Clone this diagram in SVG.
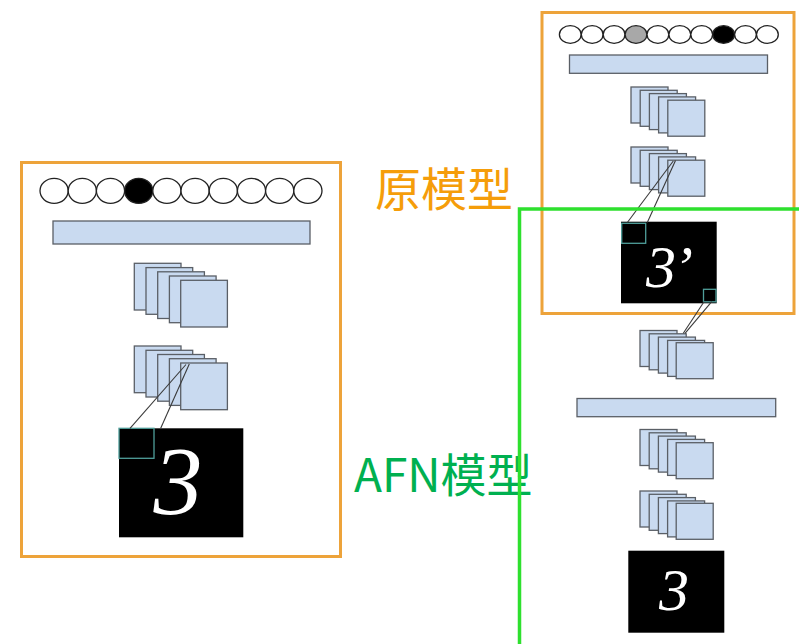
<svg xmlns="http://www.w3.org/2000/svg" width="799" height="644" viewBox="0 0 799 644">
  <style>
    .frame-orange { fill: none; stroke: #eda33a; stroke-width: 3; }
    .frame-green { fill: none; stroke: #2ee02e; stroke-width: 3.5; }
    .fmap { fill: #c9daf0; stroke: #5a5f66; stroke-width: 1.3; }
    .bar { fill: #c9daf0; stroke: #5a5f66; stroke-width: 1.3; }
    .unit { fill: #ffffff; stroke: #222222; stroke-width: 1.3; }
    .unit-on { fill: #000000; stroke: #222222; stroke-width: 1.3; }
    .unit-half { fill: #a8a8a8; stroke: #222222; stroke-width: 1.3; }
    .img { fill: #000000; }
    .patch { fill: #000000; stroke: #4f9e9a; stroke-width: 1.3; }
    .link { stroke: #3a3a3a; stroke-width: 1.1; fill: none; }
    .digit { font-family: "Liberation Serif", serif; font-style: italic; fill: #ffffff; text-anchor: middle; }
    .label { font-family: "Noto Sans CJK SC", "Noto Sans", sans-serif; }
  </style>

  <!-- left network -->
  <g id="left-model">
    <rect class="frame-orange" x="21.5" y="162.5" width="319" height="394"/>
    <g id="left-output">
      <ellipse class="unit" cx="54.1" cy="190.8" rx="14.1" ry="12.5"/>
      <ellipse class="unit" cx="82.3" cy="190.8" rx="14.1" ry="12.5"/>
      <ellipse class="unit" cx="110.5" cy="190.8" rx="14.1" ry="12.5"/>
      <ellipse class="unit-on" cx="138.7" cy="190.8" rx="14.1" ry="12.5"/>
      <ellipse class="unit" cx="166.9" cy="190.8" rx="14.1" ry="12.5"/>
      <ellipse class="unit" cx="195.1" cy="190.8" rx="14.1" ry="12.5"/>
      <ellipse class="unit" cx="223.3" cy="190.8" rx="14.1" ry="12.5"/>
      <ellipse class="unit" cx="251.5" cy="190.8" rx="14.1" ry="12.5"/>
      <ellipse class="unit" cx="279.7" cy="190.8" rx="14.1" ry="12.5"/>
      <ellipse class="unit" cx="307.9" cy="190.8" rx="14.1" ry="12.5"/>
    </g>
    <rect id="left-fc" class="bar" x="53" y="221" width="257" height="23"/>
    <g id="left-conv2">
      <rect class="fmap" x="134.3" y="263.3" width="46.7" height="46.7"/>
      <rect class="fmap" x="146" y="267.6" width="46.7" height="46.7"/>
      <rect class="fmap" x="157.7" y="271.8" width="46.7" height="46.7"/>
      <rect class="fmap" x="169.4" y="276" width="46.7" height="46.7"/>
      <rect class="fmap" x="180.7" y="280.3" width="46.7" height="46.7"/>
    </g>
    <g id="left-conv1">
      <rect class="fmap" x="134.3" y="346" width="46.7" height="46.7"/>
      <rect class="fmap" x="146" y="350.3" width="46.7" height="46.7"/>
      <rect class="fmap" x="157.7" y="354.5" width="46.7" height="46.7"/>
      <rect class="fmap" x="169.4" y="358.7" width="46.7" height="46.7"/>
      <rect class="fmap" x="180.7" y="363" width="46.7" height="46.7"/>
    </g>
    <g id="left-input">
      <rect class="img" x="119" y="428.3" width="124.3" height="109"/>
      <rect class="patch" x="119" y="428.3" width="35" height="30"/>
      <text class="digit" x="178" y="514" font-size="98">3</text>
    </g>
  </g>

  <!-- right network: original model on top, AFN below -->
  <g id="right-model">
    <rect class="frame-orange" x="542" y="12.5" width="252" height="301"/>
    <g id="right-output">
      <ellipse class="unit" cx="570.3" cy="34.5" rx="10.9" ry="8.8"/>
      <ellipse class="unit" cx="592.2" cy="34.5" rx="10.9" ry="8.8"/>
      <ellipse class="unit" cx="614.1" cy="34.5" rx="10.9" ry="8.8"/>
      <ellipse class="unit-half" cx="636" cy="34.5" rx="10.9" ry="8.8"/>
      <ellipse class="unit" cx="657.9" cy="34.5" rx="10.9" ry="8.8"/>
      <ellipse class="unit" cx="679.8" cy="34.5" rx="10.9" ry="8.8"/>
      <ellipse class="unit" cx="701.7" cy="34.5" rx="10.9" ry="8.8"/>
      <ellipse class="unit-on" cx="723.6" cy="34.5" rx="10.9" ry="8.8"/>
      <ellipse class="unit" cx="745.5" cy="34.5" rx="10.9" ry="8.8"/>
      <ellipse class="unit" cx="767.4" cy="34.5" rx="10.9" ry="8.8"/>
    </g>
    <rect id="right-fc" class="bar" x="569.5" y="55" width="198" height="18.3"/>
    <g id="right-conv2">
      <rect class="fmap" x="631" y="87" width="37" height="36"/>
      <rect class="fmap" x="640.2" y="90.3" width="37" height="36"/>
      <rect class="fmap" x="649.4" y="93.6" width="37" height="36"/>
      <rect class="fmap" x="658.6" y="96.9" width="37" height="36"/>
      <rect class="fmap" x="667.8" y="100.2" width="37" height="36"/>
    </g>
    <g id="right-conv1">
      <rect class="fmap" x="631" y="147" width="37" height="36"/>
      <rect class="fmap" x="640.2" y="150.3" width="37" height="36"/>
      <rect class="fmap" x="649.4" y="153.6" width="37" height="36"/>
      <rect class="fmap" x="658.6" y="156.9" width="37" height="36"/>
      <rect class="fmap" x="667.8" y="160.2" width="37" height="36"/>
    </g>
    <g id="adv-image">
      <rect class="img" x="621" y="221.7" width="95.7" height="81.6"/>
      <rect class="patch" x="621.7" y="223.3" width="24" height="20"/>
      <rect class="patch" x="703.5" y="289.3" width="12.5" height="12.5"/>
      <text class="digit" x="668" y="286.5" font-size="60" letter-spacing="-3">3’</text>
    </g>
    <g id="afn-conv3">
      <rect class="fmap" x="640" y="330.5" width="37" height="36"/>
      <rect class="fmap" x="649.2" y="333.8" width="37" height="36"/>
      <rect class="fmap" x="658.4" y="337.1" width="37" height="36"/>
      <rect class="fmap" x="667.6" y="340.4" width="37" height="36"/>
      <rect class="fmap" x="676.2" y="342.7" width="37" height="36"/>
    </g>
    <rect id="afn-fc" class="bar" x="577" y="398.5" width="198.7" height="18.2"/>
    <g id="afn-conv2">
      <rect class="fmap" x="640" y="429.5" width="37" height="36"/>
      <rect class="fmap" x="649.2" y="432.8" width="37" height="36"/>
      <rect class="fmap" x="658.4" y="436.1" width="37" height="36"/>
      <rect class="fmap" x="667.6" y="439.4" width="37" height="36"/>
      <rect class="fmap" x="676.2" y="442.7" width="37" height="36"/>
    </g>
    <g id="afn-conv1">
      <rect class="fmap" x="640" y="491" width="37" height="36"/>
      <rect class="fmap" x="649.2" y="494.3" width="37" height="36"/>
      <rect class="fmap" x="658.4" y="497.6" width="37" height="36"/>
      <rect class="fmap" x="667.6" y="500.9" width="37" height="36"/>
      <rect class="fmap" x="676.2" y="503.3" width="37" height="36"/>
    </g>
    <g id="afn-output">
      <rect class="img" x="628.3" y="550.7" width="96" height="82"/>
      <text class="digit" x="674" y="610" font-size="60">3</text>
    </g>
  </g>

  <!-- receptive-field lines -->
  <g id="connectors">
    <line class="link" x1="186" y1="364.5" x2="130" y2="428.3"/>
    <line class="link" x1="189.3" y1="364" x2="160.7" y2="428.3"/>
    <line class="link" x1="673.3" y1="161" x2="627.3" y2="222.5"/>
    <line class="link" x1="675.5" y1="160.5" x2="647.3" y2="222.5"/>
    <line class="link" x1="704" y1="301.7" x2="683.3" y2="333.3"/>
    <line class="link" x1="711.7" y1="301.7" x2="685" y2="333.3"/>
  </g>

  <text id="label-original" class="label" x="375" y="206" font-size="46" fill="#f59d0a">原模型</text>
  <text id="label-afn" class="label" x="354" y="492" font-size="46" fill="#00b050">AFN模型</text>

  <!-- AFN frame is drawn last so it sits over the label -->
  <rect id="afn-frame" class="frame-green" x="519.5" y="209" width="300" height="460"/>
</svg>
